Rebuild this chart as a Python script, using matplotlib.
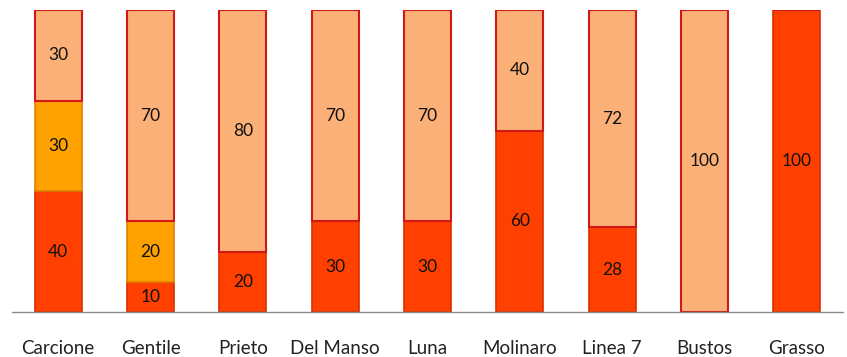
import numpy as np
import matplotlib.pyplot as plt

plt.rcParams['font.family'] = ['Lato', 'DejaVu Sans']

categories = ['Carcione', 'Gentile', 'Prieto', 'Del Manso', 'Luna',
              'Molinaro', 'Linea 7', 'Bustos', 'Grasso']
bottom_vals = [40, 10, 20, 30, 30, 60, 28, 0, 100]
middle_vals = [30, 20, 0, 0, 0, 0, 0, 0, 0]
top_vals = [30, 70, 80, 70, 70, 40, 72, 100, 0]

fig = plt.figure(figsize=(8.47, 3.57), dpi=100)
ax = fig.add_axes([12 / 847, 1 - 312 / 357, 831 / 847, 302 / 357])

x = np.arange(len(categories))
w = 0.51

bottom = np.array(bottom_vals)
middle = np.array(middle_vals)
top = np.array(top_vals)

ax.bar(x, bottom, w, color='#FF4000', edgecolor='#D83000', linewidth=1.2)
ax.bar(x, middle, w, bottom=bottom, color='#FFA200', edgecolor='#E08000', linewidth=1.2)
ax.bar(x, top, w, bottom=bottom + middle, color='#FBB077', edgecolor='#D01818', linewidth=1.5)

# value labels in the middle of each segment
for i in range(len(categories)):
    base = 0
    for v in (bottom[i], middle[i], top[i]):
        if v > 0:
            ax.text(x[i], base + v / 2, str(v), ha='center', va='center',
                    fontsize=12.5, color='#111111')
        base += v

ax.set_xlim(-0.5, len(categories) - 0.5)
ax.set_ylim(0, 100)
ax.set_xticks(x)
ax.set_xticklabels(categories, fontsize=13.5, color='#222222')
ax.tick_params(axis='x', length=0, pad=20)
ax.set_yticks([])
for s in ['top', 'right', 'left']:
    ax.spines[s].set_visible(False)
ax.spines['bottom'].set_color('#8C8C8C')
ax.spines['bottom'].set_linewidth(1)

fig.savefig('out.png', dpi=100)
